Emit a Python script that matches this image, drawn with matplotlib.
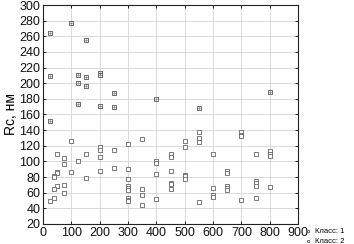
import matplotlib
matplotlib.use("Agg")
import matplotlib.pyplot as plt

plt.rcParams['font.family'] = ['Liberation Sans', 'DejaVu Sans']

# Class 1 (upper cluster)
x1 = [25, 100, 150, 25, 125, 150, 200, 200, 125, 150, 250, 125, 200, 250, 400, 25, 550, 800]
y1 = [264, 277, 255, 209, 210, 208, 213, 211, 200, 196, 187, 173, 171, 169, 180, 152, 168, 189]

# Class 2
x2 = [100, 50, 75, 75, 125, 150, 150, 100, 50, 50, 40, 40, 75, 50, 40, 75, 40, 25,
      200, 200, 200, 200, 250, 250, 300, 300, 300, 300, 300, 300, 300, 300, 300,
      350, 350, 350, 350, 400, 400, 400, 400, 450, 450, 450, 450, 450, 450,
      500, 500, 500, 500, 500, 550, 550, 550, 550, 600, 600, 600, 600,
      650, 650, 650, 650, 650, 700, 700, 700, 700, 750, 750, 750, 750, 750,
      800, 800, 800, 800]
y2 = [126, 110, 104, 97, 101, 110, 79, 87, 87, 85, 81, 80, 70, 69, 65, 60, 53, 50,
      118, 114, 106, 88, 114, 92, 122, 90, 78, 69, 66, 64, 53, 51, 49,
      129, 65, 57, 44, 100, 98, 84, 52, 110, 106, 88, 73, 71, 65,
      126, 119, 83, 81, 78, 138, 130, 125, 48, 110, 66, 57, 54,
      88, 85, 69, 66, 63, 137, 134, 132, 51, 110, 75, 72, 68, 53,
      113, 110, 107, 67]

xticks = [0, 100, 200, 300, 400, 500, 600, 700, 800, 900]
yticks = [20, 40, 60, 80, 100, 120, 140, 160, 180, 200, 220, 240, 260, 280, 300]

fig = plt.figure(figsize=(3.54, 2.44), dpi=100)
ax = fig.add_axes([0.1215, 0.082, 0.7205, 0.8975])

ax.scatter(x1, y1, marker='s', s=7, facecolors='white', edgecolors='#555555',
           linewidths=0.6, zorder=3, label='Класс: 1')
ax.scatter(x1, y1, marker='.', s=0.8, color='#555555', zorder=4)
ax.scatter(x2, y2, marker='s', s=7, facecolors='white', edgecolors='#666666',
           linewidths=0.6, zorder=3, label='Класс: 2')

ax.set_xlim(0, 900)
ax.set_ylim(20, 300)
ax.set_xticks(xticks)
ax.set_yticks(yticks)
ax.grid(True, color='#d4d4d4', linewidth=0.6)
ax.set_axisbelow(True)
ax.tick_params(axis='both', labelsize=9, direction='in', length=2, width=0.6,
               top=True, right=True, pad=2, labelcolor='#111111')
for s in ax.spines.values():
    s.set_linewidth(0.8)
    s.set_color('#222222')

ax.set_ylabel('Rc, нм', fontsize=10, labelpad=1)

leg = fig.legend(loc='upper left', bbox_to_anchor=(0.85, 0.085), frameon=False,
                 fontsize=5.5, handlelength=0.7, handletextpad=0.5,
                 labelspacing=0.35, borderpad=0.1, markerscale=0.8)

fig.savefig('out.png', dpi=100)
